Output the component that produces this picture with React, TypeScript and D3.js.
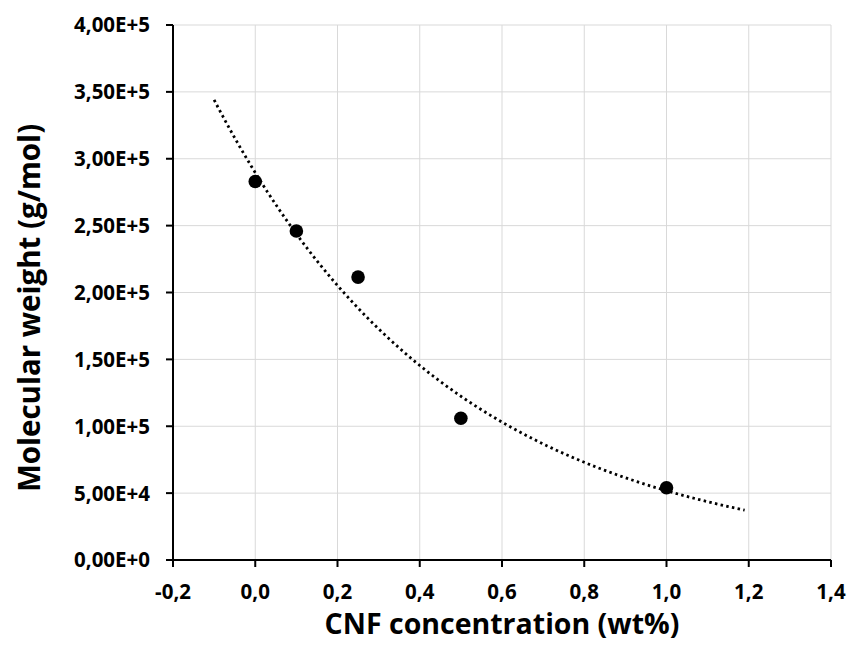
import * as d3 from "d3";

// measured data points
const concentration = [0, 0.1, 0.25, 0.5, 1.0];
const molWeight = [283000, 246000, 211500, 106000, 54000];

// trendline range and tick labels
const trendRange = [-0.1, 1.19];
const xTicks = [-0.2, 0, 0.2, 0.4, 0.6, 0.8, 1.0, 1.2, 1.4];
const yTicks = [0, 50000, 100000, 150000, 200000, 250000, 300000, 350000, 400000];

const W = 849;
const H = 645;
const margin = { top: 25, right: 18, bottom: 85, left: 173 };
const FONT = "'Open Sans', Lato, sans-serif";

const fmtX = (v: number) => v.toFixed(1).replace(".", ",");
const fmtY = (v: number) => {
  if (v === 0) return "0,00E+0";
  const e = Math.floor(Math.log10(v));
  return (v / Math.pow(10, e)).toFixed(2).replace(".", ",") + "E+" + e;
};

// exponential least-squares fit (like a spreadsheet trendline)
function expFit(xs: number[], ys: number[]) {
  const ly = ys.map(Math.log);
  const mx = d3.mean(xs)!;
  const my = d3.mean(ly)!;
  let sxx = 0, sxy = 0;
  xs.forEach((x, i) => {
    sxx += (x - mx) ** 2;
    sxy += (x - mx) * (ly[i] - my);
  });
  const b = sxy / sxx;
  const a = Math.exp(my - b * mx);
  return (x: number) => a * Math.exp(b * x);
}

export default function App() {
  const iw = W - margin.left - margin.right;
  const ih = H - margin.top - margin.bottom;
  const x = d3.scaleLinear().domain([-0.2, 1.4]).range([0, iw]);
  const y = d3.scaleLinear().domain([0, 400000]).range([ih, 0]);

  const fit = expFit(concentration, molWeight);
  const trendX = d3.range(trendRange[0], trendRange[1] + 0.001, 0.01);
  const line = d3
    .line<number>()
    .x((d) => x(d))
    .y((d) => y(fit(d)));

  return (
    <svg width={W} height={H} style={{ position: "absolute", left: 0, top: 0, background: "#fff" }}>
      <g transform={`translate(${margin.left},${margin.top})`}>
        {/* grid */}
        {xTicks.slice(1).map((t) => (
          <line key={"gx" + t} x1={x(t)} x2={x(t)} y1={0} y2={ih} stroke="#d9d9d9" strokeWidth={1} />
        ))}
        {yTicks.slice(1).map((t) => (
          <line key={"gy" + t} x1={0} x2={iw} y1={y(t)} y2={y(t)} stroke="#d9d9d9" strokeWidth={1} />
        ))}

        {/* axes */}
        <line x1={0} x2={0} y1={0} y2={ih} stroke="#000" strokeWidth={2} />
        <line x1={0} x2={iw} y1={ih} y2={ih} stroke="#000" strokeWidth={2} />
        {xTicks.map((t) => (
          <g key={"xt" + t}>
            <line x1={x(t)} x2={x(t)} y1={ih} y2={ih + 7} stroke="#000" strokeWidth={2} />
            <text x={x(t)} y={ih + 39} textAnchor="middle" fontFamily={FONT} fontWeight="bold" fontSize={20.5} fill="#000">
              {fmtX(t)}
            </text>
          </g>
        ))}
        {yTicks.map((t) => (
          <g key={"yt" + t}>
            <line x1={-7} x2={0} y1={y(t)} y2={y(t)} stroke="#000" strokeWidth={2} />
            <text x={-23} y={y(t)} dy="0.36em" textAnchor="end" fontFamily={FONT} fontWeight="bold" fontSize={20.5} fill="#000">
              {fmtY(t)}
            </text>
          </g>
        ))}

        {/* trendline */}
        <path d={line(trendX) || ""} fill="none" stroke="#000" strokeWidth={2.8} strokeDasharray="2.5 3.3" />

        {/* points */}
        {concentration.map((c, i) => (
          <circle key={"p" + i} cx={x(c)} cy={y(molWeight[i])} r={6.8} fill="#000" />
        ))}
      </g>

      <text x={502} y={634} textAnchor="middle" fontFamily={FONT} fontWeight="bold" fontSize={28.5} fill="#000">
        CNF concentration (wt%)
      </text>
      <text
        transform={`translate(40,308) rotate(-90)`}
        textAnchor="middle"
        fontFamily={FONT}
        fontWeight="bold"
        fontSize={29.5}
        fill="#000"
      >
        Molecular weight (g/mol)
      </text>
    </svg>
  );
}
